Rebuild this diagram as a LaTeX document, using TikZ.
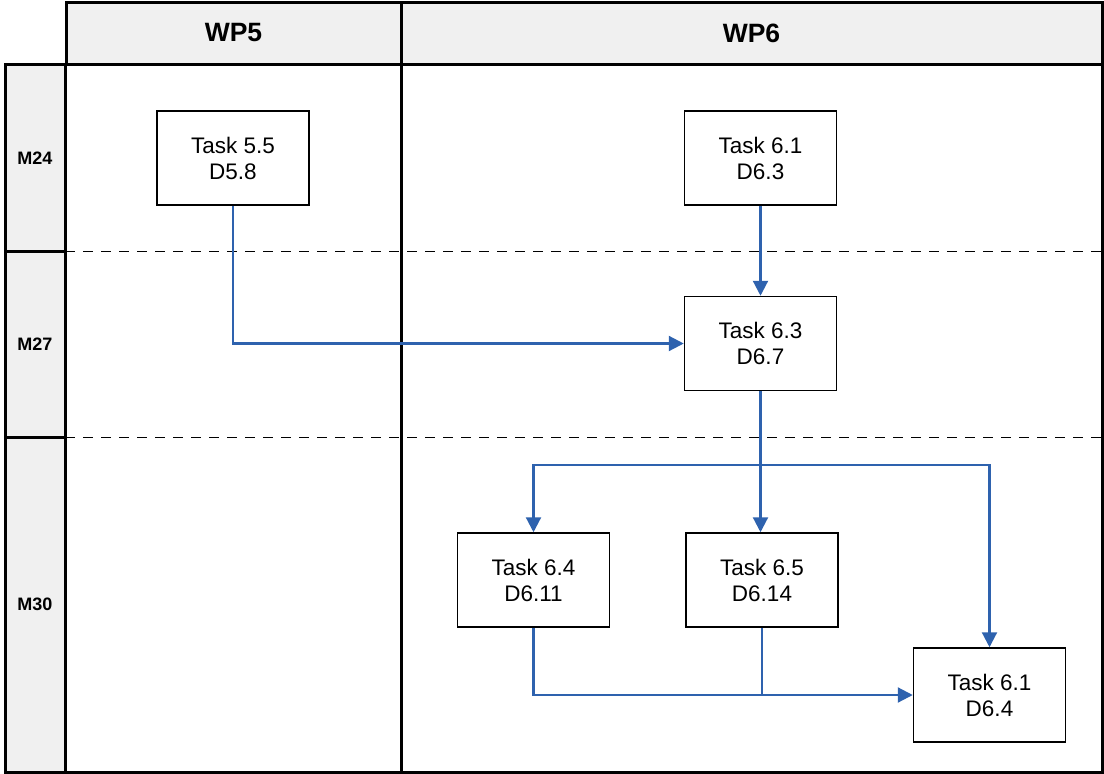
\documentclass[tikz,border=0pt]{standalone}
\usepackage{fontspec}
\setmainfont{Liberation Sans}
\usetikzlibrary{arrows.meta}
\definecolor{hdrgray}{HTML}{F0F0F0}
\definecolor{flowblue}{HTML}{2E62AE}
\tikzset{
  hdr/.style={draw=black, line width=3pt, fill=hdrgray},
  hdrtext/.style={font=\bfseries\fontsize{26.5}{30}\selectfont},
  rowtext/.style={font=\bfseries\fontsize{18}{21}\selectfont},
  taskbox/.style={draw=black, line width=1.5pt, fill=white, minimum width=152pt, minimum height=94pt, align=center, font=\fontsize{22.5}{26}\selectfont, inner sep=0pt},
  flow/.style={draw=flowblue, line width=2.2pt, -{Triangle[length=15pt,width=15pt]}},
  flowline/.style={draw=flowblue, line width=2.2pt},
  sep/.style={draw=black, line width=1pt, dash pattern=on 10pt off 8pt},
}
\begin{document}
\begin{tikzpicture}[x=1pt,y=-1pt]
\useasboundingbox (0,0) rectangle (1104,774);
% headers
\draw[hdr] (66,2) rectangle (401,64);
\draw[hdr] (401,2) rectangle (1102,64);
\node[hdrtext] (wp5) at (233.5,33) {WP5};
\node[hdrtext] (wp6) at (751.5,33) {WP6};
% row labels
\draw[hdr] (5,64) rectangle (65,251);
\draw[hdr] (5,251) rectangle (65,437);
\draw[hdr] (5,437) rectangle (65,772);
\node[rowtext] (m24) at (35,158) {M24};
\node[rowtext] (m27) at (35,344) {M27};
\node[rowtext] (m30) at (35,604) {M30};
% main area
\draw[line width=3pt] (65,64) rectangle (1102,772);
\draw[line width=3pt] (401,64) -- (401,772);
\draw[sep] (65,251) -- (1102,251);
\draw[sep] (65,437) -- (1102,437);
% tasks
\node[taskbox] (t55) at (233,158) {Task 5.5\\D5.8};
\node[taskbox] (t61a) at (760.5,158) {Task 6.1\\D6.3};
\node[taskbox] (t63) at (760.5,343.5) {Task 6.3\\D6.7};
\node[taskbox] (t64) at (533.5,580) {Task 6.4\\D6.11};
\node[taskbox] (t65) at (762,580) {Task 6.5\\D6.14};
\node[taskbox] (t61b) at (989.5,695) {Task 6.1\\D6.4};
% connectors
\draw[flow] (t55.south) |- (t63.west);
\draw[flow] (t61a.south) -- (t63.north);
\coordinate (br) at (760.5,465);
\draw[flow] (t63.south) -- (t63.south |- t65.north);
\draw[flow] (br) -| (t64.north);
\draw[flow] (br) -| (t61b.north);
\coordinate (jn) at (762,695);
\draw[flowline] (t64.south) |- (jn);
\draw[flow] (t65.south) -- (jn) -- (t61b.west);
\end{tikzpicture}
\end{document}
